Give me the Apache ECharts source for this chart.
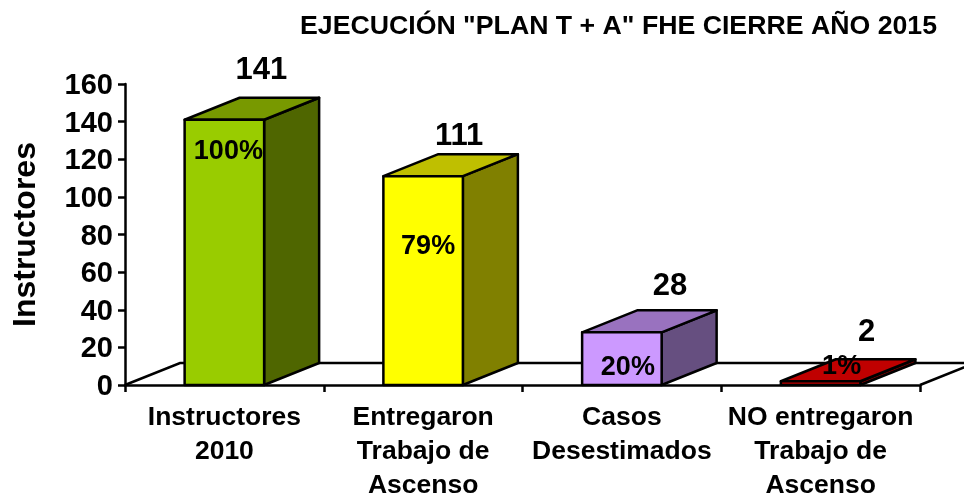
<!DOCTYPE html>
<html>
<head>
<meta charset="utf-8">
<style>
html, body { margin: 0; padding: 0; background: #fff; }
#chart { width: 964px; height: 498px; }
</style>
<script src="https://cdn.jsdelivr.net/npm/echarts@6/dist/echarts.min.js"></script>
</head>
<body>
<div id="chart"></div>
<script>
// datos
var categories = ['Instructores\n2010', 'Entregaron\nTrabajo de\nAscenso', 'Casos\nDesestimados', 'NO entregaron\nTrabajo de\nAscenso'];
var values = [141, 111, 28, 2];
var percents = ['100%', '79%', '20%', '1%'];
var yTicks = { min: 0, max: 160, interval: 20 };

// colores: frente, lado, arriba
var frontColors = ['#99CC00', '#FFFF00', '#CC99FF', '#C00000'];
var sideColors = ['#4F6600', '#808000', '#664F80', '#800000'];
var topColors = ['#789900', '#BFBF00', '#9972BF', '#C00000'];

// posicion de las etiquetas respecto a la barra
var pctLevel = [124, 73.5, 9.5, 10];
var pctShift = [4, 5, 6, 21];
var valueShift = [[37, -49], [36, -40], [48, -46], [46, -49]];

var FONT = '"Liberation Sans", Arial, sans-serif';
var DX = 55, DY = -22; // profundidad 3D
var BAR_RATIO = 0.4;

function poly(points, fill) {
	return {
		type: 'polygon',
		shape: { points: points },
		style: { fill: fill, stroke: '#000', lineWidth: 2.5, lineJoin: 'round' }
	};
}

function text(x, y, str, size) {
	return {
		type: 'text',
		style: {
			x: x, y: y, text: str, fill: '#000',
			fontFamily: FONT, fontWeight: 'bold', fontSize: size,
			textAlign: 'center', textVerticalAlign: 'middle'
		}
	};
}

// piso del grafico
function renderFloor(params, api) {
	var o = api.coord([0, 0]);
	var band = api.size([1, 0])[0];
	var left = o[0] - band / 2;
	var right = left + band * categories.length;
	return {
		type: 'polyline',
		shape: { points: [
			[left, o[1]],
			[left + DX, o[1] + DY],
			[right + DX, o[1] + DY],
			[right, o[1]]
		] },
		style: { fill: 'none', stroke: '#000', lineWidth: 2.5 }
	};
}

// barra 3D con sus etiquetas
function renderBar(params, api) {
	var i = params.dataIndex;
	var c = api.value(0);
	var top = api.coord([c, api.value(1)]);
	var base = api.coord([c, 0]);
	var w = api.size([1, 0])[0] * BAR_RATIO;
	var x0 = top[0] - w / 2, x1 = top[0] + w / 2;
	return {
		type: 'group',
		children: [
			poly([[x1, top[1]], [x1 + DX, top[1] + DY], [x1 + DX, base[1] + DY], [x1, base[1]]], sideColors[i]),
			poly([[x0, top[1]], [x0 + DX, top[1] + DY], [x1 + DX, top[1] + DY], [x1, top[1]]], topColors[i]),
			poly([[x0, top[1]], [x1, top[1]], [x1, base[1]], [x0, base[1]]], frontColors[i]),
			text(top[0] + pctShift[i], api.coord([c, pctLevel[i]])[1], percents[i], 27),
			text(top[0] + valueShift[i][0], top[1] + valueShift[i][1], String(values[i]), 31)
		]
	};
}

var chart = echarts.init(document.getElementById('chart'));
var option = {
	animation: false,
	title: {
		text: 'EJECUCIÓN "PLAN T + A" FHE CIERRE AÑO 2015',
		left: 300,
		top: 13,
		padding: 0,
		textStyle: { fontFamily: FONT, fontWeight: 'bold', fontSize: 26.7, color: '#000' }
	},
	grid: { left: 125, top: 84, width: 795, height: 301, outerBoundsMode: 'none' },
	xAxis: {
		type: 'category',
		data: categories,
		axisLine: { lineStyle: { color: '#000', width: 2.5 } },
		axisTick: { show: true, length: 7, lineStyle: { color: '#000', width: 2.5 } },
		axisLabel: {
			interval: 0, margin: 16, lineHeight: 34, color: '#000',
			fontFamily: FONT, fontWeight: 'bold', fontSize: 26.5
		}
	},
	yAxis: {
		type: 'value',
		min: yTicks.min,
		max: yTicks.max,
		interval: yTicks.interval,
		name: 'Instructores',
		nameLocation: 'middle',
		nameGap: 83,
		nameTextStyle: { color: '#000', fontFamily: FONT, fontWeight: 'bold', fontSize: 32 },
		splitLine: { show: false },
		axisLine: { show: true, lineStyle: { color: '#000', width: 2.5 } },
		axisTick: { show: true, length: 7, lineStyle: { color: '#000', width: 2.5 } },
		axisLabel: { margin: 12, verticalAlign: 'top', lineHeight: 4, color: '#000', fontFamily: FONT, fontWeight: 'bold', fontSize: 29 }
	},
	series: [
		{ type: 'custom', renderItem: renderFloor, data: [[0, 0]], encode: { x: 0, y: 1 }, z: 1, silent: true },
		{
			type: 'custom',
			renderItem: renderBar,
			data: values.map(function(v, i) { return [i, v]; }),
			encode: { x: 0, y: 1 },
			z: 2
		}
	]
};
chart.setOption(option);
</script>
</body>
</html>
